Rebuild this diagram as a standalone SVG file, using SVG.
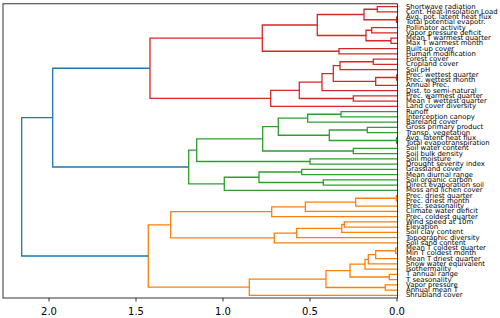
<svg xmlns="http://www.w3.org/2000/svg" width="500" height="318" viewBox="0 0 500 318">
<style>
.l{fill:none;stroke-width:1.3;stroke-linejoin:miter;stroke-linecap:butt}
.r{stroke:#d62728}.g{stroke:#2ca02c}.o{stroke:#ff7f0e}.b{stroke:#1f77b4}
.lab{font-family:"DejaVu Sans",sans-serif;font-size:6.9px;fill:#000}
.tk{font-family:"DejaVu Sans",sans-serif;font-size:10px;fill:#000;text-anchor:middle}
.ax{fill:none;stroke:#000;stroke-width:0.8}
</style>
<rect fill="#fff" width="500" height="318"/>
<g id="connectors">
<path class="l r" d="M397.5 6.625H377.3V11.875H397.5M397.5 17.125H396.5V22.375H397.5M377.3 9.25H364V19.75H396.5M397.5 27.625H371.7V32.875H397.5M397.5 38.125H391V43.375H397.5M371.7 30.25H366V40.75H391M364 14.5H317.3V35.5H366M397.5 48.625H339V53.875H397.5M317.3 25H262.3V51.25H339M397.5 59.125H373.3V64.375H397.5M373.3 61.75H340V69.625H397.5M397.5 74.875H396.7V80.125H397.5M396.7 77.5H375.7V85.375H397.5M340 65.69H333.3V81.44H375.7M333.3 73.56H322V90.625H397.5M397.5 95.875H353.3V101.125H397.5M322 82.09H299.3V98.5H353.3M299.3 90.3H270.7V106.375H397.5M262.3 38.125H150V98.34H270.7"/>
<path class="l g" d="M397.5 111.625H341V116.875H397.5M341 114.25H307.7V122.125H397.5M397.5 127.375H367.3V132.625H397.5M397.5 137.875H396.5V143.125H397.5M367.3 130H329.3V140.5H396.5M307.7 118.19H278.3V135.25H329.3M397.5 148.375H353.3V153.625H397.5M278.3 126.72H262.7V151H353.3M397.5 158.875H310V164.125H397.5M262.7 138.86H196.7V161.5H310M397.5 169.375H301.7V174.625H397.5M397.5 179.875H323.3V185.125H397.5M301.7 172H259V182.5H323.3M259 177.25H224.3V190.375H397.5M196.7 150.18H188.7V183.81H224.3"/>
<path class="l o" d="M397.5 195.625H396.3V200.875H397.5M396.3 198.25H355.7V206.125H397.5M355.7 202.19H305.3V211.375H397.5M305.3 206.78H271.7V216.625H397.5M397.5 221.875H344.3V227.125H397.5M344.3 224.5H341.7V232.375H397.5M341.7 228.44H296.7V237.625H397.5M296.7 233.03H274.3V242.875H397.5M271.7 211.7H170.7V237.95H274.3M397.5 248.125H395.7V253.375H397.5M395.7 250.75H375.7V258.625H397.5M375.7 254.69H368.3V263.875H397.5M368.3 259.28H365V269.125H397.5M397.5 274.375H389.3V279.625H397.5M365 264.2H350V277H389.3M397.5 284.875H385.3V290.125H397.5M350 270.6H326V287.5H385.3M326 279.05H249.3V295.375H397.5M170.7 224.83H148.3V287.2H249.3"/>
<path class="l b" d="M150 68.23H52.7V167H188.7M52.7 117.6H21.7V256H148.3"/>
</g>
<g id="axes">
<rect class="ax" x="3" y="3.8" width="394.5" height="294.2"/>
<path class="ax" d="M49 298V301.5M136 298V301.5M223 298V301.5M310 298V301.5M397 298V301.5"/>
<text class="tk" x="49" y="314.5">2.0</text>
<text class="tk" x="136" y="314.5">1.5</text>
<text class="tk" x="223" y="314.5">1.0</text>
<text class="tk" x="310" y="314.5">0.5</text>
<text class="tk" x="397" y="314.5">0.0</text>
</g>
<g id="leaves">
<g id="n00"><text class="lab" x="406" y="8.5">Shortwave radiation</text></g>
<g id="n01"><text class="lab" x="406" y="13.78">Cont. Heat-Insolation Load</text></g>
<g id="n02"><text class="lab" x="406" y="19.03">Avg. pot. latent heat flux</text></g>
<g id="n03"><text class="lab" x="406" y="24.28">Total potential evapotr.</text></g>
<g id="n04"><text class="lab" x="406" y="29.53">Pollinator activity</text></g>
<g id="n05"><text class="lab" x="406" y="34.78">Vapor pressure deficit</text></g>
<g id="n06"><text class="lab" x="406" y="40.03">Mean T warmest quarter</text></g>
<g id="n07"><text class="lab" x="406" y="45.28">Max T warmest month</text></g>
<g id="n08"><text class="lab" x="406" y="50.53">Built-up cover</text></g>
<g id="n09"><text class="lab" x="406" y="55.78">Human modification</text></g>
<g id="n10"><text class="lab" x="406" y="61.03">Forest cover</text></g>
<g id="n11"><text class="lab" x="406" y="66.28">Cropland cover</text></g>
<g id="n12"><text class="lab" x="406" y="71.53">Soil pH</text></g>
<g id="n13"><text class="lab" x="406" y="76.78">Prec. wettest quarter</text></g>
<g id="n14"><text class="lab" x="406" y="82.03">Prec. wettest month</text></g>
<g id="n15"><text class="lab" x="406" y="87.28">Annual Prec.</text></g>
<g id="n16"><text class="lab" x="406" y="92.53">Dist. to semi-natural</text></g>
<g id="n17"><text class="lab" x="406" y="97.78">Prec. warmest quarter</text></g>
<g id="n18"><text class="lab" x="406" y="103.03">Mean T wettest quarter</text></g>
<g id="n19"><text class="lab" x="406" y="108.28">Land cover diversity</text></g>
<g id="n20"><text class="lab" x="406" y="113.53">Runoff</text></g>
<g id="n21"><text class="lab" x="406" y="118.78">Interception canopy</text></g>
<g id="n22"><text class="lab" x="406" y="124.03">Bareland cover</text></g>
<g id="n23"><text class="lab" x="406" y="129.28">Gross primary product</text></g>
<g id="n24"><text class="lab" x="406" y="134.53">Transp. vegetation</text></g>
<g id="n25"><text class="lab" x="406" y="139.78">Avg. latent heat flux</text></g>
<g id="n26"><text class="lab" x="406" y="145.03">Total evapotranspiration</text></g>
<g id="n27"><text class="lab" x="406" y="150.28">Soil water content</text></g>
<g id="n28"><text class="lab" x="406" y="155.53">Soil bulk density</text></g>
<g id="n29"><text class="lab" x="406" y="160.78">Soil moisture</text></g>
<g id="n30"><text class="lab" x="406" y="166.03">Drought severity index</text></g>
<g id="n31"><text class="lab" x="406" y="171.28">Grassland cover</text></g>
<g id="n32"><text class="lab" x="406" y="176.53">Mean diurnal range</text></g>
<g id="n33"><text class="lab" x="406" y="181.78">Soil organic carbon</text></g>
<g id="n34"><text class="lab" x="406" y="187.03">Direct evaporation soil</text></g>
<g id="n35"><text class="lab" x="406" y="192.28">Moss and lichen cover</text></g>
<g id="n36"><text class="lab" x="406" y="197.53">Prec. driest quarter</text></g>
<g id="n37"><text class="lab" x="406" y="202.78">Prec. driest month</text></g>
<g id="n38"><text class="lab" x="406" y="208.03">Prec. seasonality</text></g>
<g id="n39"><text class="lab" x="406" y="213.28">Climate water deficit</text></g>
<g id="n40"><text class="lab" x="406" y="218.53">Prec. coldest quarter</text></g>
<g id="n41"><text class="lab" x="406" y="223.78">Wind speed at 10m</text></g>
<g id="n42"><text class="lab" x="406" y="229.03">Elevation</text></g>
<g id="n43"><text class="lab" x="406" y="234.28">Soil clay content</text></g>
<g id="n44"><text class="lab" x="406" y="239.53">Topographic diversity</text></g>
<g id="n45"><text class="lab" x="406" y="244.78">Soil sand content</text></g>
<g id="n46"><text class="lab" x="406" y="250.03">Mean T coldest quarter</text></g>
<g id="n47"><text class="lab" x="406" y="255.28">Min T coldest month</text></g>
<g id="n48"><text class="lab" x="406" y="260.53">Mean T driest quarter</text></g>
<g id="n49"><text class="lab" x="406" y="265.78">Snow water equivalent</text></g>
<g id="n50"><text class="lab" x="406" y="271.03">Isothermality</text></g>
<g id="n51"><text class="lab" x="406" y="276.28">T annual range</text></g>
<g id="n52"><text class="lab" x="406" y="281.53">T seasonality</text></g>
<g id="n53"><text class="lab" x="406" y="286.78">Vapor pressure</text></g>
<g id="n54"><text class="lab" x="406" y="292.03">Annual mean T</text></g>
<g id="n55"><text class="lab" x="406" y="297.28">Shrubland cover</text></g>
</g>
</svg>
